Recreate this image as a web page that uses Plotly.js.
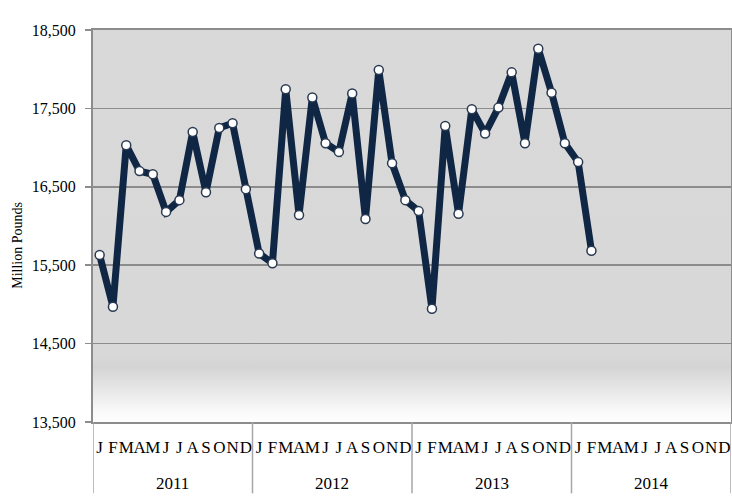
<!DOCTYPE html>
<html>
<head>
<meta charset="utf-8">
<script src="https://cdn.plot.ly/plotly-3.0.1.min.js"></script>
<style>html,body{margin:0;padding:0;background:#fff;}#chart{width:732px;height:496px;}</style>
</head>
<body>
<div id="chart"></div>
<script>
const years = ['2011', '2012', '2013', '2014'];
const monthLetters = ['J','F','M','A','M','J','J','A','S','O','N','D'];
const values2011 = [15630, 14970, 17030, 16700, 16660, 16180, 16330, 17200, 16430, 17250, 17310, 16470];
const values2012 = [15650, 15525, 17745, 16140, 17640, 17055, 16945, 17690, 16090, 17990, 16800, 16330];
const values2013 = [16190, 14945, 17275, 16155, 17490, 17180, 17510, 17960, 17055, 18260, 17700, 17055];
const values2014 = [16815, 15685];

const FONT = '"Liberation Serif", "Times New Roman", Times, serif';

const yValues = [].concat(values2011, values2012, values2013, values2014);
const xIdx = yValues.map((_, i) => i);
const tickVals = [];
const tickText = [];
years.forEach((y, yi) => monthLetters.forEach((m, mi) => { tickVals.push(yi * 12 + mi); tickText.push(m); }));

const gradSvg = "<svg xmlns='http://www.w3.org/2000/svg' width='10' height='100' preserveAspectRatio='none' viewBox='0 0 10 100'>" +
  "<defs><linearGradient id='g' x1='0' y1='0' x2='0' y2='1'>" +
  "<stop offset='0' stop-color='#d9d9d9'/><stop offset='0.83' stop-color='#d8d8d8'/>" +
  "<stop offset='0.86' stop-color='#d4d4d4'/><stop offset='0.97' stop-color='#f8f8f8'/><stop offset='1' stop-color='#ffffff'/>" +
  "</linearGradient></defs><rect x='0' y='0' width='10' height='100' fill='url(#g)'/></svg>";
const gradUri = 'data:image/svg+xml;charset=utf-8,' + encodeURIComponent(gradSvg);

const shapes = [];
for (let i = 0; i <= years.length; i++) {
  shapes.push({type: 'line', xref: 'x', yref: 'paper', x0: i * 12 - 0.5, x1: i * 12 - 0.5, y0: 0, y1: -0.182,
    line: {color: '#a6a6a6', width: 1.5}});
}
const annotations = years.map((y, i) => ({
  text: y, xref: 'x', yref: 'paper', x: i * 12 + 5.5, y: -0.157, showarrow: false,
  font: {family: FONT, size: 17, color: '#000'}, yanchor: 'middle'
}));
annotations.push({
  text: 'Million Pounds', xref: 'paper', yref: 'paper', x: -0.1176, y: 0.452, textangle: -90, showarrow: false,
  font: {family: FONT, size: 14, color: '#000'}, xanchor: 'center', yanchor: 'middle'
});

const trace = {
  x: xIdx, y: yValues, type: 'scatter', mode: 'lines+markers',
  line: {color: '#0f2644', width: 7},
  marker: {color: '#ffffff', size: 9, line: {color: '#2a3a52', width: 1.5}},
  hoverinfo: 'skip'
};

const layout = {
  width: 732, height: 496,
  margin: {l: 93, r: 1, t: 30, b: 74, pad: 0},
  paper_bgcolor: '#ffffff', plot_bgcolor: 'rgba(0,0,0,0)',
  showlegend: false,
  font: {family: FONT},
  images: [{source: gradUri, xref: 'paper', yref: 'paper', x: 0, y: 1, sizex: 1, sizey: 1,
    xanchor: 'left', yanchor: 'top', sizing: 'stretch', layer: 'below'}],
  xaxis: {
    range: [-0.5, 47.5], tickvals: tickVals, ticktext: tickText, ticks: '', showgrid: false, zeroline: false,
    showline: true, linecolor: '#8c8c8c', linewidth: 2, mirror: true,
    tickfont: {family: FONT, size: 17, color: '#000'},
    ticklabelstandoff: 9, tickangle: 0
  },
  yaxis: {
    range: [13500, 18500], tick0: 13500, dtick: 1000, tickformat: ',', separatethousands: true,
    ticks: 'outside', ticklen: 6, tickcolor: '#8c8c8c', tickwidth: 1.5,
    showgrid: true, gridcolor: '#8c8c8c', gridwidth: 1.5, zeroline: false,
    showline: true, linecolor: '#8c8c8c', linewidth: 2, mirror: true,
    tickfont: {family: FONT, size: 16, color: '#000'},
    ticklabelstandoff: 6
  },
  shapes: shapes,
  annotations: annotations
};

Plotly.newPlot('chart', [trace], layout, {displayModeBar: false, staticPlot: true});
</script>
</body>
</html>
